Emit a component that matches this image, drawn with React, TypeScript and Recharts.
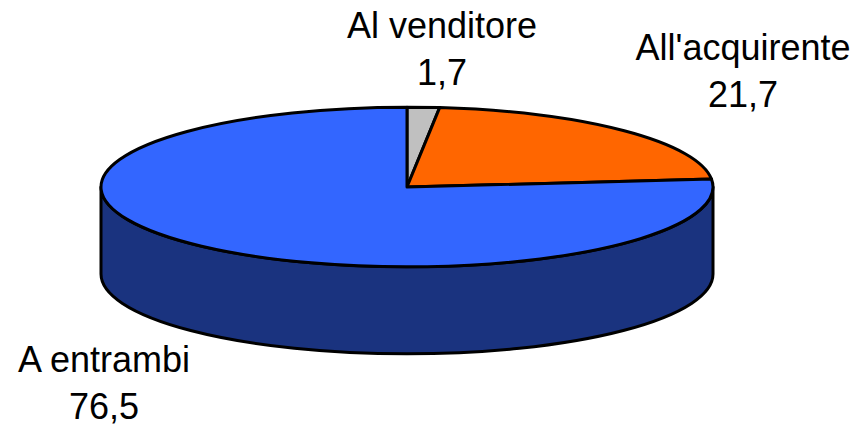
import { PieChart, Pie, Cell } from 'recharts';

const categories = ['Al venditore', "All'acquirente", 'A entrambi'];
const shares = [1.7, 21.7, 76.5];
const shareLabels = ['1,7', '21,7', '76,5'];
const topColors = ['#c0c0c0', '#ff6600', '#3366ff'];
const sideColors = ['#808080', '#993d00', '#1a337f'];

const chartData = categories.map((name, i) => ({ name, value: shares[i] }));

// the pie is flattened by hand, recharts only knows circles
const TILT = 0.261;
const DEPTH = 87;
const labelAnchors = [
  { x: 442, y: 38 },
  { x: 743, y: 60 },
  { x: 104, y: 372 },
];

function TiltedSlice(props: any) {
  const { cx, cy, outerRadius, startAngle, endAngle, index } = props;
  const rx = outerRadius;
  const ry = outerRadius * TILT;
  const pt = (deg: number, dy = 0) => {
    const a = (deg * Math.PI) / 180;
    return `${cx + rx * Math.cos(a)} ${cy - ry * Math.sin(a) + dy}`;
  };
  const hi = Math.max(startAngle, endAngle);
  const lo = Math.min(startAngle, endAngle);
  const large = hi - lo > 180 ? 1 : 0;
  const top = `M ${cx} ${cy} L ${pt(hi)} A ${rx} ${ry} 0 ${large} 1 ${pt(lo)} Z`;

  // the front wall is whatever part of the slice lies in the lower half
  let side = null;
  const a0 = Math.min(hi, 0);
  const a1 = Math.max(lo, -180);
  if (a0 > a1) {
    side = (
      <path
        d={`M ${pt(a0)} L ${pt(a0, DEPTH)} A ${rx} ${ry} 0 0 1 ${pt(a1, DEPTH)} L ${pt(a1)} A ${rx} ${ry} 0 0 0 ${pt(a0)} Z`}
        fill={sideColors[index]}
        stroke="#000"
        strokeWidth={3}
        strokeLinejoin="round"
      />
    );
  }
  return (
    <g>
      {side}
      <path d={top} fill={topColors[index]} stroke="#000" strokeWidth={3} strokeLinejoin="round" />
    </g>
  );
}

function SliceLabel({ index }: any) {
  const { x, y } = labelAnchors[index];
  return (
    <text textAnchor="middle" fontFamily="'Liberation Sans', Arial, sans-serif" fontSize={36} fill="#000">
      <tspan x={x} y={y}>{categories[index]}</tspan>
      <tspan x={x} y={y + 47}>{shareLabels[index]}</tspan>
    </text>
  );
}

export default function App() {
  return (
    <div style={{ position: 'absolute', left: 0, top: 0, background: '#fff' }}>
      <PieChart width={856} height={426} margin={{ top: 0, right: 0, bottom: 0, left: 0 }}>
        <Pie
          data={chartData}
          dataKey="value"
          nameKey="name"
          cx={407}
          cy={187}
          innerRadius={0}
          outerRadius={306}
          startAngle={90}
          endAngle={-270}
          paddingAngle={0}
          isAnimationActive={false}
          shape={TiltedSlice}
          label={SliceLabel}
          labelLine={false}
        >
          {chartData.map((d, i) => (
            <Cell key={d.name} fill={topColors[i]} />
          ))}
        </Pie>
      </PieChart>
    </div>
  );
}
